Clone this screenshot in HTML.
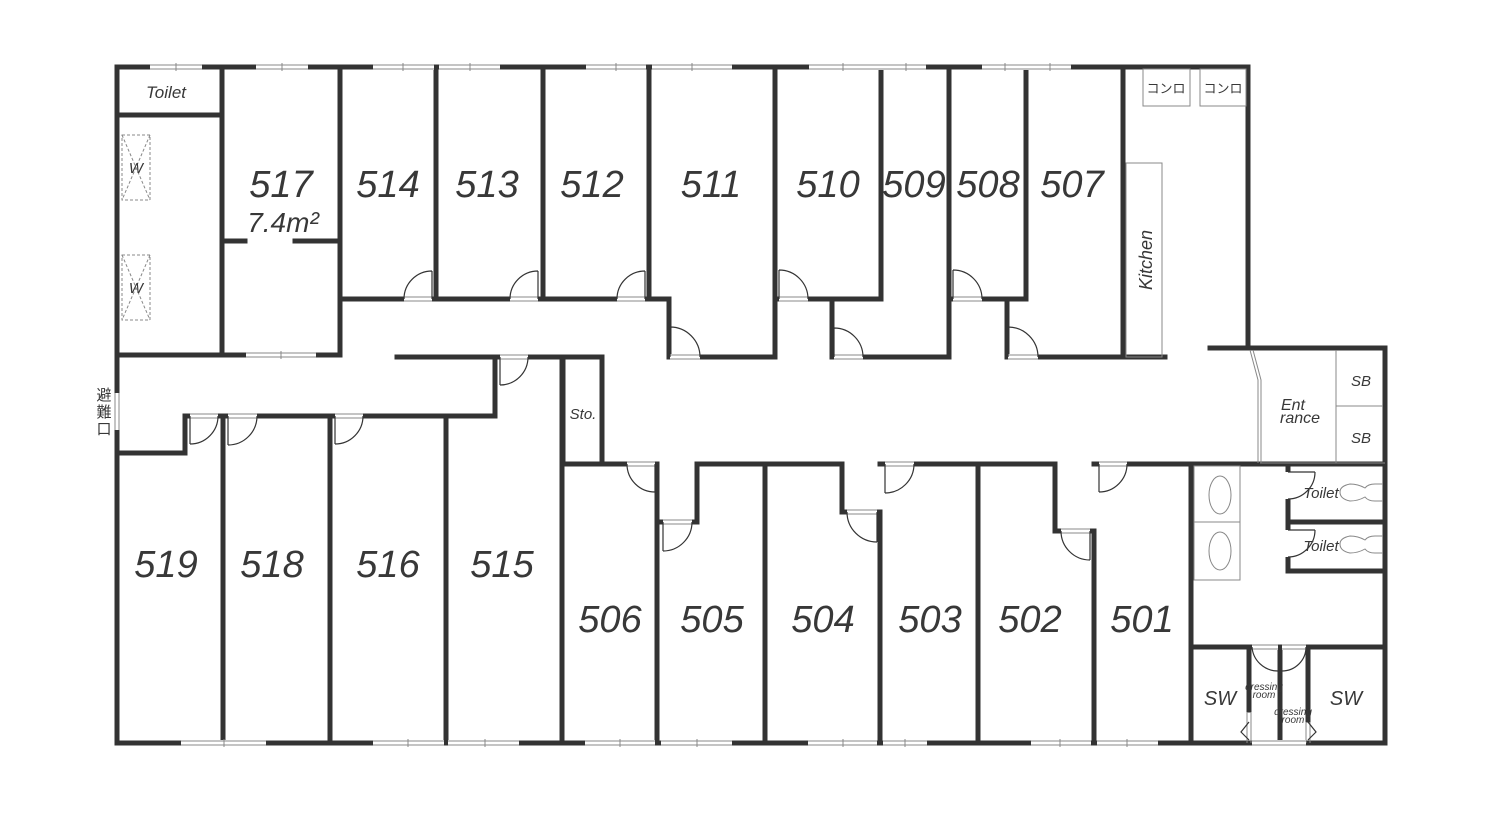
<!DOCTYPE html>
<html><head><meta charset="utf-8"><style>
html,body{margin:0;padding:0;background:#fff;}
svg{display:block;}
.w{stroke:#333;stroke-width:5;fill:none;stroke-linecap:square;}
.t{stroke:#333;stroke-width:1.2;fill:none;}
.g{stroke:#888;stroke-width:1;fill:none;}
.n{font-family:"Liberation Sans",sans-serif;font-style:italic;font-size:38px;fill:#383838;text-anchor:middle;}
.s{font-family:"Liberation Sans","Noto Sans CJK JP",sans-serif;font-style:italic;fill:#383838;text-anchor:middle;}
</style></head><body>
<svg width="1500" height="825" viewBox="0 0 1500 825" xmlns="http://www.w3.org/2000/svg">
<path class="w" d="M117,67 H1248 V348 M1210,348 H1385 V743 H117 V67"/>
<path class="w" d="M117,115 H222 M222,67 V355 M117,355 H340 M222,241 H245 M295,241 H340 M340,67 V299 H650 M340,299 V355"/>
<path class="w" d="M436,67 V299 M543,67 V299 M649,67 V299 H669 V357 H775 V67 M775,299 H881 V67 M832,299 V357 H949 V67 M949,299 H1026 V67 M1007,299 V357 H1165 M1123,67 V357"/>
<path class="w" d="M397,357 H602 V464 M495,357 V416 H185 V453 H117 M563,357 V464"/>
<path class="w" d="M223,416 V743 M330,416 V743 M446,416 V743 M562,357 V743 M562,464 H657 V743 M657,522 H697 V464 H842 V512 H880 V743 M765,464 V743 M880,464 H1055 V531 H1094 V743 M978,464 V743 M1094,464 H1385 M1191,464 V743"/>
<path class="w" d="M1288,464 V571 H1385 M1288,522 H1385 M1191,647 H1385 M1249,647 V710 M1280,647 V743 M1308,647 V720"/>
<path class="g" d="M1247,712V743M1251,712V743M1306,722V743M1310,722V743"/>
<g>
<rect x="150" y="64" width="52" height="6" fill="#fff"/><rect x="256" y="64" width="52" height="6" fill="#fff"/>
<rect x="373" y="64" width="61" height="6" fill="#fff"/><rect x="439" y="64" width="61" height="6" fill="#fff"/>
<rect x="586" y="64" width="60" height="6" fill="#fff"/><rect x="652" y="64" width="80" height="6" fill="#fff"/>
<rect x="809" y="64" width="117" height="6" fill="#fff"/><rect x="982" y="64" width="89" height="6" fill="#fff"/>
<path class="g" d="M150,65H202M150,69H202M256,65H308M256,69H308M373,65H434M373,69H434M439,65H500M439,69H500M586,65H646M586,69H646M652,65H732M652,69H732M809,65H926M809,69H926M982,65H1071M982,69H1071"/>
<path class="g" d="M176,63V71M282,63V71M403,63V71M470,63V71M616,63V71M692,63V71M843,63V71M906,63V71M1005,63V71M1050,63V71"/>
</g>
<g>
<rect x="181" y="740" width="85" height="6" fill="#fff"/><rect x="373" y="740" width="71" height="6" fill="#fff"/>
<rect x="448" y="740" width="71" height="6" fill="#fff"/><rect x="585" y="740" width="70" height="6" fill="#fff"/>
<rect x="661" y="740" width="71" height="6" fill="#fff"/><rect x="808" y="740" width="69" height="6" fill="#fff"/>
<rect x="883" y="740" width="44" height="6" fill="#fff"/><rect x="1031" y="740" width="60" height="6" fill="#fff"/>
<rect x="1097" y="740" width="61" height="6" fill="#fff"/><rect x="1252" y="740" width="54" height="6" fill="#fff"/>
<rect x="246" y="352" width="70" height="6" fill="#fff"/>
<path class="g" d="M181,741H266M181,745H266M373,741H444M373,745H444M448,741H519M448,745H519M585,741H655M585,745H655M661,741H732M661,745H732M808,741H877M808,745H877M883,741H927M883,745H927M1031,741H1091M1031,745H1091M1097,741H1158M1097,745H1158M1252,741H1306M1252,745H1306M246,353H316M246,357H316"/>
<path class="g" d="M224,739V747M408,739V747M485,739V747M620,739V747M697,739V747M843,739V747M905,739V747M1060,739V747M1127,739V747M281,351V359"/>
</g>
<rect x="114" y="393" width="6" height="37" fill="#fff"/>
<path class="g" d="M115,393V430M119,393V430"/>
<text x="104" y="400" class="s" style="font-style:normal;font-size:15px">避</text>
<text x="104" y="417" class="s" style="font-style:normal;font-size:15px">難</text>
<text x="104" y="434" class="s" style="font-style:normal;font-size:15px">口</text>
<g fill="#fff">
<rect x="404" y="296" width="28" height="6"/><rect x="510" y="296" width="28" height="6"/><rect x="617" y="296" width="28" height="6"/>
<rect x="779" y="296" width="29" height="6"/><rect x="953" y="296" width="29" height="6"/>
<rect x="670" y="354" width="30" height="6"/><rect x="834" y="354" width="29" height="6"/><rect x="1008" y="354" width="30" height="6"/>
<rect x="500" y="354" width="28" height="6"/>
<rect x="190" y="413" width="28" height="6"/><rect x="228" y="413" width="29" height="6"/><rect x="335" y="413" width="28" height="6"/>
<rect x="627" y="461" width="28" height="6"/><rect x="663" y="519" width="29" height="6"/><rect x="847" y="509" width="30" height="6"/>
<rect x="885" y="461" width="29" height="6"/><rect x="1061" y="528" width="29" height="6"/><rect x="1099" y="461" width="28" height="6"/>
<rect x="1285" y="472" width="6" height="27"/><rect x="1285" y="530" width="6" height="27"/>
<rect x="1252" y="644" width="26" height="6"/><rect x="1282" y="644" width="24" height="6"/>
</g>
<path class="g" d="M404,297H432M404,301H432M510,297H538M510,301H538M617,297H645M617,301H645M779,297H808M779,301H808M953,297H982M953,301H982M670,355H700M670,359H700M834,355H863M834,359H863M1008,355H1038M1008,359H1038M500,355H528M500,359H528M190,414H218M190,418H218M228,414H257M228,418H257M335,414H363M335,418H363M627,462H655M627,466H655M663,520H692M663,524H692M847,510H877M847,514H877M885,462H914M885,466H914M1061,529H1090M1061,533H1090M1099,462H1127M1099,466H1127M1252,645H1278M1252,649H1278M1282,645H1306M1282,649H1306"/>
<g class="t">
<path d="M432,299V271M404,299A28,28 0 0 1 432,271"/>
<path d="M538,299V271M510,299A28,28 0 0 1 538,271"/>
<path d="M645,299V271M617,299A28,28 0 0 1 645,271"/>
<path d="M779,299V270M808,299A29,29 0 0 0 779,270"/>
<path d="M953,299V270M982,299A29,29 0 0 0 953,270"/>
<path d="M670,357V327M700,357A30,30 0 0 0 670,327"/>
<path d="M834,357V328M863,357A29,29 0 0 0 834,328"/>
<path d="M1008,357V327M1038,357A30,30 0 0 0 1008,327"/>
<path d="M500,357V385M528,357A28,28 0 0 1 500,385"/>
<path d="M190,416V444M218,416A28,28 0 0 1 190,444"/>
<path d="M228,416V445M257,416A29,29 0 0 1 228,445"/>
<path d="M335,416V444M363,416A28,28 0 0 1 335,444"/>
<path d="M655,464V492M627,464A28,28 0 0 0 655,492"/>
<path d="M663,522V551M692,522A29,29 0 0 1 663,551"/>
<path d="M877,512V542M847,512A30,30 0 0 0 877,542"/>
<path d="M885,464V493M914,464A29,29 0 0 1 885,493"/>
<path d="M1090,531V560M1061,531A29,29 0 0 0 1090,560"/>
<path d="M1099,464V492M1127,464A28,28 0 0 1 1099,492"/>
<path d="M1288,472H1315M1288,499A27,27 0 0 0 1315,472"/>
<path d="M1288,530H1315M1288,557A27,27 0 0 0 1315,530"/>
<path d="M1252,647A26,26 0 0 0 1278,671"/>
<path d="M1306,647A24,24 0 0 1 1282,671"/>
<path d="M1249,722L1241,732L1249,740M1308,722L1316,732L1308,740"/>
</g>
<g class="g">
<rect x="122" y="135" width="28" height="65" stroke-dasharray="3,2"/>
<rect x="122" y="255" width="28" height="65" stroke-dasharray="3,2"/>
<path d="M122,135L150,200M150,135L122,200M122,255L150,320M150,255L122,320" stroke-dasharray="3,2"/>
<rect x="1143" y="69" width="47" height="37"/><rect x="1200" y="69" width="46" height="37"/>
<rect x="1126" y="163" width="36" height="194"/>
<path d="M1250,350L1258,380V463M1253,350L1261,380V463"/>
<path d="M1336,350V463M1336,406H1383M1260,463H1385"/>
<rect x="1194" y="466" width="46" height="56"/><rect x="1194" y="522" width="46" height="58"/>
<ellipse cx="1220" cy="495" rx="11" ry="19"/><ellipse cx="1220" cy="551" rx="11" ry="19"/>
<path d="M1383,484H1375Q1368,484 1365,488Q1358,484 1350,484Q1340,486 1340,492Q1340,499 1350,501Q1358,501 1365,497Q1368,501 1375,501H1383"/>
<path d="M1383,536H1375Q1368,536 1365,540Q1358,536 1350,536Q1340,538 1340,544Q1340,551 1350,553Q1358,553 1365,549Q1368,553 1375,553H1383"/>
</g>
<text class="s" x="166" y="98" style="font-size:17px">Toilet</text>
<text class="s" x="136" y="173" style="font-size:15px">W</text>
<text class="s" x="136" y="293" style="font-size:15px">W</text>
<text class="s" x="1166" y="93" style="font-size:13px;font-style:normal">コンロ</text>
<text class="s" x="1223" y="93" style="font-size:13px;font-style:normal">コンロ</text>
<text class="s" x="1152" y="260" style="font-size:18px" transform="rotate(-90 1152 260)">Kitchen</text>
<text class="s" x="1361" y="386" style="font-size:15px">SB</text>
<text class="s" x="1361" y="443" style="font-size:15px">SB</text>
<text class="s" x="1293" y="410" style="font-size:16px">Ent</text>
<text class="s" x="1300" y="423" style="font-size:16px">rance</text>
<text class="s" x="583" y="419" style="font-size:15px">Sto.</text>
<text class="s" x="1321" y="498" style="font-size:15px">Toilet</text>
<text class="s" x="1321" y="551" style="font-size:15px">Toilet</text>
<text class="s" x="1220" y="705" style="font-size:20px">SW</text>
<text class="s" x="1346" y="705" style="font-size:20px">SW</text>
<text class="s" x="1264" y="690" style="font-size:10px">dressing</text>
<text class="s" x="1264" y="698" style="font-size:10px">room</text>
<text class="s" x="1293" y="715" style="font-size:10px">dressing</text>
<text class="s" x="1293" y="723" style="font-size:10px">room</text>
<text class="n" x="281" y="197">517</text>
<text class="n" x="283" y="232" style="font-size:28px">7.4m&#178;</text>
<text class="n" x="388" y="197">514</text>
<text class="n" x="487" y="197">513</text>
<text class="n" x="592" y="197">512</text>
<text class="n" x="711" y="197">511</text>
<text class="n" x="828" y="197">510</text>
<text class="n" x="914" y="197">509</text>
<text class="n" x="988" y="197">508</text>
<text class="n" x="1072" y="197">507</text>
<text class="n" x="166" y="577">519</text>
<text class="n" x="272" y="577">518</text>
<text class="n" x="388" y="577">516</text>
<text class="n" x="502" y="577">515</text>
<text class="n" x="610" y="632">506</text>
<text class="n" x="712" y="632">505</text>
<text class="n" x="823" y="632">504</text>
<text class="n" x="930" y="632">503</text>
<text class="n" x="1030" y="632">502</text>
<text class="n" x="1142" y="632">501</text>
</svg>
</body></html>
